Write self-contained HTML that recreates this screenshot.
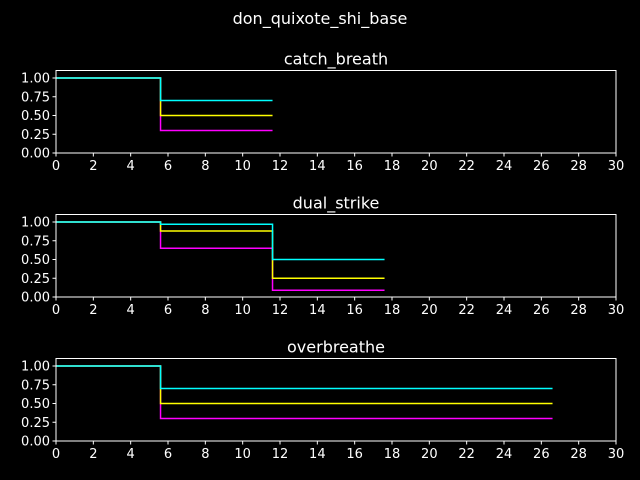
<!DOCTYPE html>
<html><head><meta charset="utf-8"><style>
body{margin:0;background:#000;}
svg{display:block;font-family:"DejaVu Sans","Liberation Sans",sans-serif;}
</style></head><body>
<svg id="chart" width="640" height="480">
<text x="320" y="24" fill="#fff" font-size="16" text-anchor="middle">don_quixote_shi_base</text>
</svg>
<script>
const titles = ["catch_breath","dual_strike","overbreathe"];
const stepTimes = [[0,5.6,11.6],[0,5.6,11.6,17.6],[0,5.6,26.6]];
const cyanVals = [[1.0,0.7],[1.0,0.97,0.5],[1.0,0.7]];
const yellowVals = [[1.0,0.5],[1.0,0.88,0.25],[1.0,0.5]];
const magentaVals = [[1.0,0.3],[1.0,0.65,0.09],[1.0,0.3]];
const xTicks = [0,2,4,6,8,10,12,14,16,18,20,22,24,26,28,30];
const yTicks = [0,0.25,0.5,0.75,1.0];
const yTickLabels = ["0.00","0.25","0.50","0.75","1.00"];

const svg = document.getElementById('chart');
const NS = "http://www.w3.org/2000/svg";
const left=56, right=616, xMin=0, xMax=30, yMin=0, yMax=1.1;
const bottoms=[153,297,441], heights=[82.5,82.5,82.5];
function mk(tag, attrs){const e=document.createElementNS(NS,tag);for(const k in attrs)e.setAttribute(k,attrs[k]);svg.appendChild(e);return e;}
const xs = v => left + (v-xMin)/(xMax-xMin)*(right-left);

titles.forEach((t,i)=>{
  const b=bottoms[i], h=heights[i], top=b-h;
  const ys = v => b - (v-yMin)/(yMax-yMin)*h;
  const tt=mk('text',{x:(left+right)/2,y:top-6,fill:'#fff','font-size':16,'text-anchor':'middle'});
  tt.textContent=t;
  
  
  const series=[[cyanVals[i],'#00ffff','cyan'],[yellowVals[i],'#ffff00','yellow'],[magentaVals[i],'#ff00ff','magenta']];
  series.slice().reverse().forEach(([vals,col,nm])=>{
    let d='';
    const times=stepTimes[i];
    for(let k=0;k<vals.length;k++){
      d+=(k===0?'M':'L')+xs(times[k])+','+ys(vals[k])+' L'+xs(times[k+1])+','+ys(vals[k])+' ';
    }
    const p=mk('path',{d:d,stroke:col,'stroke-width':1.5,fill:'none'});
    
    
  });
  const r=mk('rect',{x:left,y:top,width:right-left,height:h,fill:'none',stroke:'#fff','stroke-width':1});
  
  
  xTicks.forEach(v=>{
    mk('line',{x1:xs(v),x2:xs(v),y1:b,y2:b+3.5,stroke:'#fff'});
    const l=mk('text',{x:xs(v),y:b+17,fill:'#fff','font-size':13,'text-anchor':'middle'});
    l.textContent=v;
    
    
  });
  yTicks.forEach((v,k)=>{
    mk('line',{x1:left-3.5,x2:left,y1:ys(v),y2:ys(v),stroke:'#fff'});
    const l=mk('text',{x:left-6,y:ys(v)+4.5,fill:'#fff','font-size':13,'text-anchor':'end'});
    l.textContent=yTickLabels[k];
    
    
  });
});
</script>
</body></html>
